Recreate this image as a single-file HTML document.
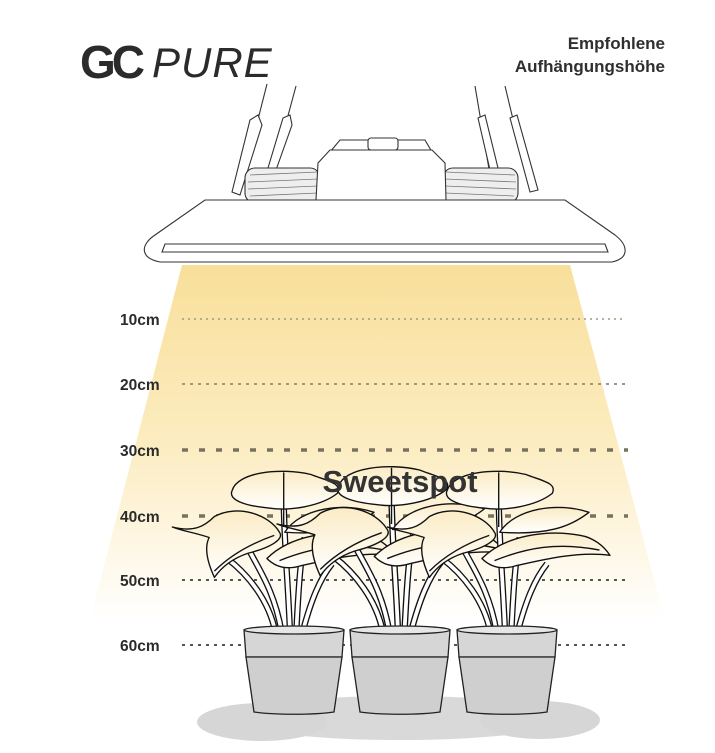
<!DOCTYPE html>
<html><head><meta charset="utf-8"><style>
html,body{margin:0;padding:0;background:#fff;}
svg{display:block;}
text{font-family:"Liberation Sans",sans-serif;}
</style></head><body>
<svg width="715" height="753" viewBox="0 0 715 753" xmlns="http://www.w3.org/2000/svg">
<defs>
<linearGradient id="cone" x1="0" y1="0" x2="0" y2="1">
<stop offset="0" stop-color="#f8df9a"/>
<stop offset="0.5" stop-color="#fcecc0"/>
<stop offset="0.82" stop-color="#fef8e8"/>
<stop offset="1" stop-color="#ffffff"/>
</linearGradient>
<linearGradient id="leaf" x1="0" y1="0" x2="0" y2="1">
<stop offset="0" stop-color="#fbecc6"/>
<stop offset="1" stop-color="#ffffff"/>
</linearGradient>
<g id="plant" stroke="#111" stroke-width="1.3" fill="url(#leaf)" stroke-linejoin="round">
  <path d="M-8 0 C-15 -40 -30 -60 -40 -80" fill="none" stroke-width="6"/>
  <path d="M-8 0 C-15 -40 -30 -60 -40 -80" fill="none" stroke-width="3.5" stroke="#fff"/>
  <path d="M0 0 C-2 -50 -6 -90 -6 -130" fill="none" stroke-width="6"/>
  <path d="M0 0 C-2 -50 -6 -90 -6 -130" fill="none" stroke-width="3.5" stroke="#fff"/>
  <path d="M6 0 C8 -40 10 -70 14 -90" fill="none" stroke-width="6"/>
  <path d="M6 0 C8 -40 10 -70 14 -90" fill="none" stroke-width="3.5" stroke="#fff"/>
  <path d="M12 0 C20 -30 28 -50 40 -65" fill="none" stroke-width="6"/>
  <path d="M12 0 C20 -30 28 -50 40 -65" fill="none" stroke-width="3.5" stroke="#fff"/>
  <path d="M-14 0 C-20 -30 -40 -55 -60 -70" fill="none" stroke-width="6"/>
  <path d="M-14 0 C-20 -30 -40 -55 -60 -70" fill="none" stroke-width="3.5" stroke="#fff"/>
  <path d="M-55 -135 C-50 -152 -10 -157 20 -150 C35 -144 50 -142 45 -132 C30 -120 0 -115 -20 -118 C-40 -120 -60 -125 -55 -135Z"/>
  <line x1="-6" y1="-152" x2="-6" y2="-100"/>
  <path d="M-5 -95 C10 -118 50 -124 80 -114 C62 -100 40 -92 -5 -95Z"/>
  <path d="M-112 -100 C-92 -95 -82 -100 -72 -110 C-50 -122 -20 -112 -10 -95 C-5 -88 -20 -80 -40 -75 C-55 -70 -65 -62 -72 -52 C-78 -65 -82 -80 -77 -90 C-92 -95 -102 -96 -112 -100Z"/>
  <path d="M-72 -58 C-55 -75 -35 -85 -15 -92" fill="none"/>
  <path d="M-22 -70 C0 -92 40 -98 72 -92 C84 -90 94 -82 100 -73 C72 -77 40 -70 10 -63 C0 -60 -12 -60 -22 -70Z"/>
  <path d="M-10 -68 C20 -80 50 -86 90 -78" fill="none"/>
</g>
<g id="pot" stroke="#222" stroke-width="1.3">
  <path d="M-50 0 L50 0 L48 27 L-48 27Z" fill="#d6d6d6"/>
  <ellipse cx="0" cy="0" rx="50" ry="4" fill="#e6e6e6"/>
  <path d="M-48 27 L48 27 L40 82 C20 85 -20 85 -40 82Z" fill="#cfcfcf"/>
</g>
</defs>

<path d="M182 265 L570 265 L665 620 L90 620Z" fill="url(#cone)"/>

<text x="80" y="78" font-size="46" font-weight="bold" fill="#2b2b2b" letter-spacing="-4">GC</text>
<text x="152" y="77" font-size="42" fill="#2b2b2b" font-style="italic" letter-spacing="1">PURE</text>

<text x="665" y="49" font-size="17" font-weight="bold" fill="#2f2f2f" text-anchor="end">Empfohlene</text>
<text x="665" y="72" font-size="17" font-weight="bold" fill="#2f2f2f" text-anchor="end">Aufhängungshöhe</text>

<g stroke="#333" stroke-width="1.1" fill="#fff">
  <line x1="267" y1="84" x2="240" y2="190"/>
  <line x1="296" y1="86" x2="272" y2="175"/>
  <line x1="475" y1="86" x2="490" y2="175"/>
  <line x1="505" y1="86" x2="530" y2="190"/>
  <path d="M250 120 L258 115 L262 125 L240 195 L232 192Z"/>
  <path d="M283 118 L290 115 L292 125 L276 170 L268 168Z"/>
  <path d="M478 118 L485 115 L498 168 L490 170Z"/>
  <path d="M510 118 L517 115 L538 190 L530 192Z"/>
  <rect x="245" y="168" width="75" height="35" rx="10" fill="#eee"/>
  <rect x="443" y="168" width="75" height="35" rx="10" fill="#eee"/>
  <g stroke="#777" stroke-width="0.8">
    <line x1="250" y1="175" x2="318" y2="172"/><line x1="248" y1="182" x2="318" y2="179"/><line x1="248" y1="189" x2="318" y2="186"/><line x1="250" y1="196" x2="318" y2="193"/>
    <line x1="445" y1="172" x2="515" y2="175"/><line x1="445" y1="179" x2="516" y2="182"/><line x1="445" y1="186" x2="516" y2="189"/><line x1="445" y1="193" x2="514" y2="196"/>
  </g>
  <path d="M340 140 L425 140 L432 152 L330 152Z"/>
  <rect x="368" y="138" width="30" height="12" rx="3"/>
  <path d="M330 150 L432 150 L445 163 L446 200 L316 200 L318 163Z"/>
  <path d="M205 200 L565 200 L615 235 C628 245 630 258 612 262 L160 262 C140 258 140 245 155 235Z"/>
  <path d="M165 244 L605 244 L608 252 L162 252Z" fill="none"/>
</g>

<g fill="none">
  <line x1="182" y1="319" x2="625" y2="319" stroke="#9c9a86" stroke-width="1.5" stroke-dasharray="2,4"/>
  <line x1="182" y1="384" x2="625" y2="384" stroke="#9c9a86" stroke-width="2" stroke-dasharray="3,5"/>
  <line x1="182" y1="450" x2="628" y2="450" stroke="#76725e" stroke-width="3.5" stroke-dasharray="6,11"/>
  <line x1="182" y1="516" x2="628" y2="516" stroke="#76725e" stroke-width="3.5" stroke-dasharray="6,11"/>
  <line x1="182" y1="580" x2="628" y2="580" stroke="#555" stroke-width="2" stroke-dasharray="3,5"/>
  <line x1="182" y1="645" x2="628" y2="645" stroke="#555" stroke-width="2" stroke-dasharray="3,5"/>
</g>
<g font-size="15.5" fill="#2b2b2b" font-weight="bold">
  <text x="120" y="325">10cm</text>
  <text x="120" y="390">20cm</text>
  <text x="120" y="456">30cm</text>
  <text x="120" y="522">40cm</text>
  <text x="120" y="586">50cm</text>
  <text x="120" y="651">60cm</text>
</g>

<ellipse cx="400" cy="718" rx="170" ry="22" fill="#d9d9d9"/>
<ellipse cx="262" cy="722" rx="65" ry="19" fill="#d6d6d6"/>
<ellipse cx="540" cy="720" rx="60" ry="19" fill="#d6d6d6"/>

<use href="#plant" transform="translate(290,632) scale(1.05)"/>
<use href="#plant" transform="translate(398,632) scale(1.08)"/>
<use href="#plant" transform="translate(505,632) scale(1.05)"/>

<use href="#pot" transform="translate(294,630)"/>
<use href="#pot" transform="translate(400,630)"/>
<use href="#pot" transform="translate(507,630)"/>

<text x="400" y="492" font-size="31" font-weight="bold" fill="#333" text-anchor="middle">Sweetspot</text>
</svg>
</body></html>
